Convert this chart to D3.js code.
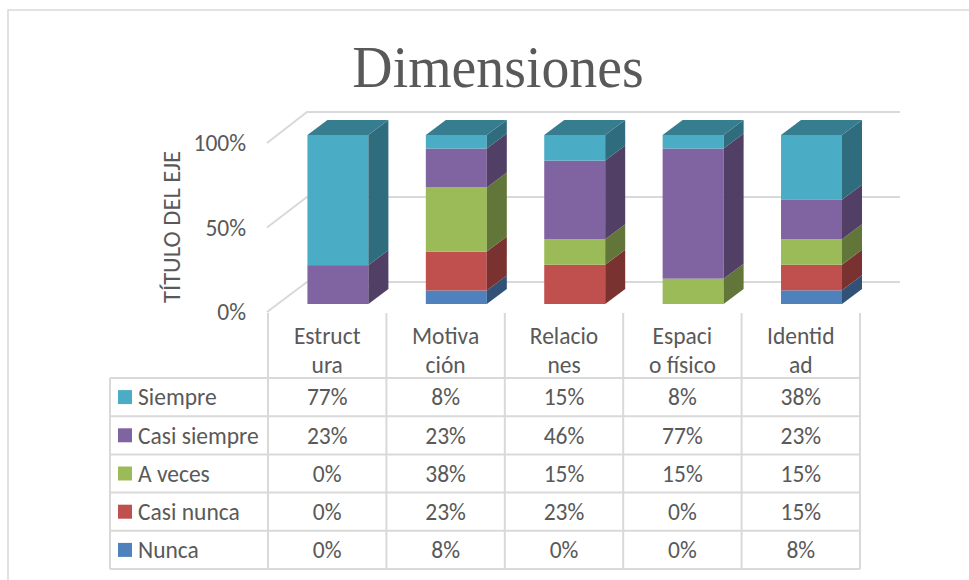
<!DOCTYPE html>
<html lang="es">
<head>
<meta charset="UTF-8">
<title>Dimensiones</title>
<script src="https://d3js.org/d3.v7.min.js"></script>
<style>
    body { margin: 0; background: #fff; }
    svg { display: block; }
    text { font-family: Carlito, Calibri, Lato, sans-serif; fill: #595959; }
</style>
</head>
<body>
<svg id="chart" width="969" height="580"></svg>
<script>
// data
const categories = ['Estructura', 'Motivación', 'Relaciones', 'Espacio físico', 'Identidad'];
const categoryLines = [['Estruct', 'ura'], ['Motiva', 'ción'], ['Relacio', 'nes'], ['Espaci', 'o físico'], ['Identid', 'ad']];
const seriesNames = ['Siempre', 'Casi siempre', 'A veces', 'Casi nunca', 'Nunca'];
const seriesColors = ['#4BACC6', '#8064A2', '#9BBB59', '#C0504D', '#4F81BD'];
const siempre = [77, 8, 15, 8, 38];
const casiSiempre = [23, 23, 46, 77, 23];
const aVeces = [0, 38, 15, 15, 15];
const casiNunca = [0, 23, 23, 0, 15];
const nunca = [0, 8, 0, 0, 8];
const yTicks = [0, 0.5, 1];

const seriesValues = [siempre, casiSiempre, aVeces, casiNunca, nunca];
const fontSize = '23.5px';

const svg = d3.select('#chart');

// chart frame
svg.append('path')
    .attr('d', 'M8,580 V10 H969')
    .attr('fill', 'none')
    .attr('stroke', '#d9d9d9')
    .attr('stroke-width', 1.5);

// title
svg.append('text')
    .attr('x', 498).attr('y', 87)
    .attr('text-anchor', 'middle')
    .attr('transform', 'translate(498,0) scale(0.93,1) translate(-498,0)')
    .style('font-family', '"Liberation Serif", "DejaVu Serif", serif')
    .style('font-size', '60px')
    .text('Dimensiones');

// scales
const x = d3.scaleBand().domain(categories).range([268, 860]);
const bw = x.bandwidth();
const yBar = d3.scaleLinear().domain([0, 1]).range([304, 135]);
const yBack = d3.scaleLinear().domain([0, 1]).range([282, 112]);
const yFront = d3.scaleLinear().domain([0, 1]).range([312, 143]);
const depthX = 20, depthY = 15;
const barOffset = bw * 0.333, barW = bw * 0.515;

// walls / gridlines
const grid = svg.append('g').attr('stroke', '#d9d9d9').attr('stroke-width', 2).attr('fill', 'none');
yTicks.forEach(v => {
    grid.append('path').attr('d', `M267,${yFront(v)} L307,${yBack(v)} H900`);
});

// tick labels
svg.append('g').selectAll('text')
    .data(yTicks)
    .join('text')
    .attr('x', 246)
    .attr('y', d => yFront(d))
    .attr('dy', '0.35em')
    .attr('text-anchor', 'end')
    .style('font-size', fontSize)
    .text(d => d3.format('.0%')(d));

// axis title
svg.append('text')
    .attr('transform', 'translate(180,227) rotate(-90)')
    .attr('text-anchor', 'middle')
    .style('font-size', '24.5px')
    .text('TÍTULO DEL EJE');

// stacked data (100% stacked: normalize by column total)
const rows = categories.map((c, i) => {
    const r = { cat: c };
    seriesNames.forEach((s, j) => { r[s] = seriesValues[j][i]; });
    return r;
});
const stack = d3.stack()
    .keys(seriesNames.slice().reverse())
    .offset(d3.stackOffsetExpand);
const layers = stack(rows);

const shade = (c, k) => d3.color(c).darker(k).formatHex();

const bars = svg.append('g');
layers.forEach(layer => {
    const color = seriesColors[seriesNames.indexOf(layer.key)];
    layer.forEach(d => {
        if (d[1] - d[0] <= 0) return;
        const x0 = x(d.data.cat) + barOffset;
        const yt = yBar(d[1]), yb = yBar(d[0]);
        bars.append('rect')
            .attr('x', x0).attr('y', yt)
            .attr('width', barW).attr('height', yb - yt)
            .attr('fill', color);
        bars.append('path')
            .attr('d', `M${x0 + barW},${yt} L${x0 + barW + depthX},${yt - depthY} L${x0 + barW + depthX},${yb - depthY} L${x0 + barW},${yb} Z`)
            .attr('fill', shade(color, 1.3));
        if (d[1] >= 0.9999) {
            bars.append('path')
                .attr('d', `M${x0},${yt} L${x0 + depthX},${yt - depthY} L${x0 + barW + depthX},${yt - depthY} L${x0 + barW},${yt} Z`)
                .attr('fill', shade(color, 0.9));
        }
    });
});

// data table
const rowTop = 378, rowH = 38.2;
const table = svg.append('g').attr('stroke', '#d9d9d9').attr('stroke-width', 2).attr('fill', 'none');
const colEdges = categories.map(c => x(c)).concat([x(categories[categories.length - 1]) + bw]);
colEdges.forEach(cx => {
    table.append('line').attr('x1', cx).attr('x2', cx).attr('y1', 313).attr('y2', rowTop + rowH * 5);
});
table.append('line').attr('x1', 110).attr('x2', 110).attr('y1', rowTop).attr('y2', rowTop + rowH * 5);
d3.range(6).forEach(i => {
    table.append('line').attr('x1', 110).attr('x2', colEdges[colEdges.length - 1])
        .attr('y1', rowTop + rowH * i).attr('y2', rowTop + rowH * i);
});

// header labels
categories.forEach((c, i) => {
    const t = svg.append('text')
        .attr('x', x(c) + bw / 2)
        .attr('text-anchor', 'middle')
        .style('font-size', fontSize);
    categoryLines[i].forEach((ln, k) => {
        t.append('tspan').attr('x', x(c) + bw / 2).attr('y', 344 + k * 29).text(ln);
    });
});

// legend keys + values
seriesNames.forEach((s, j) => {
    const cy = rowTop + rowH * j + rowH / 2;
    svg.append('rect')
        .attr('x', 118).attr('y', cy - 7)
        .attr('width', 14).attr('height', 14)
        .attr('fill', seriesColors[j]);
    svg.append('text')
        .attr('x', 138).attr('y', cy).attr('dy', '0.35em')
        .style('font-size', fontSize)
        .text(s);
    categories.forEach((c, i) => {
        svg.append('text')
            .attr('x', x(c) + bw / 2).attr('y', cy).attr('dy', '0.35em')
            .attr('text-anchor', 'middle')
            .style('font-size', fontSize)
            .text(seriesValues[j][i] + '%');
    });
});
</script>
</body>
</html>
